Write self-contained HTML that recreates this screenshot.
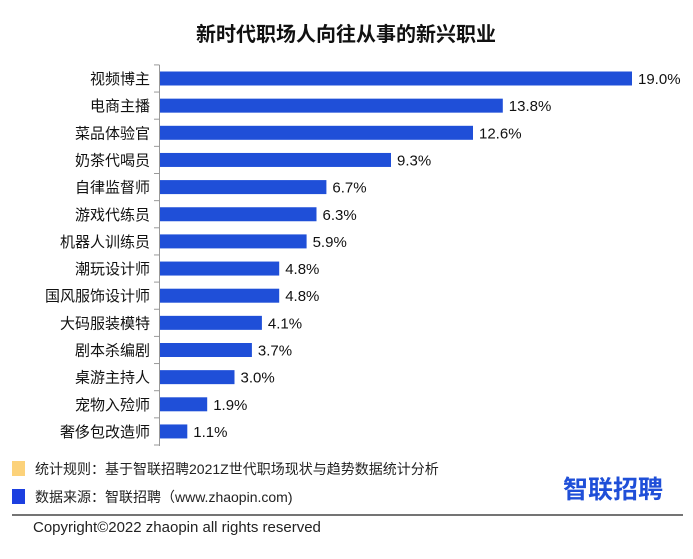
<!DOCTYPE html><html><head><meta charset="utf-8"><style>
body{margin:0;background:#fff;width:693px;height:554px;overflow:hidden}
text{font-family:"Liberation Sans","Noto Sans CJK SC",sans-serif}
</style></head><body>
<svg width="693" height="554" xmlns="http://www.w3.org/2000/svg">
<text x="346" y="41" text-anchor="middle" font-size="20" font-weight="bold" fill="#111">新时代职场人向往从事的新兴职业</text>
<line x1="159.5" y1="65" x2="159.5" y2="446" stroke="#999"/>
<g stroke="#999">
<line x1="154" y1="64.9" x2="159.5" y2="64.9"/><line x1="154" y1="92.05" x2="159.5" y2="92.05"/><line x1="154" y1="119.2" x2="159.5" y2="119.2"/><line x1="154" y1="146.35" x2="159.5" y2="146.35"/><line x1="154" y1="173.5" x2="159.5" y2="173.5"/><line x1="154" y1="200.65" x2="159.5" y2="200.65"/><line x1="154" y1="227.8" x2="159.5" y2="227.8"/><line x1="154" y1="254.95" x2="159.5" y2="254.95"/><line x1="154" y1="282.1" x2="159.5" y2="282.1"/><line x1="154" y1="309.25" x2="159.5" y2="309.25"/><line x1="154" y1="336.4" x2="159.5" y2="336.4"/><line x1="154" y1="363.55" x2="159.5" y2="363.55"/><line x1="154" y1="390.7" x2="159.5" y2="390.7"/><line x1="154" y1="417.85" x2="159.5" y2="417.85"/><line x1="154" y1="445" x2="159.5" y2="445"/>
</g>
<g fill="#1f4fd8">
<rect x="160" y="71.5" width="472" height="14"/>
<rect x="160" y="98.65" width="342.8" height="14"/>
<rect x="160" y="125.8" width="313" height="14"/>
<rect x="160" y="152.95" width="231" height="14"/>
<rect x="160" y="180.1" width="166.4" height="14"/>
<rect x="160" y="207.25" width="156.5" height="14"/>
<rect x="160" y="234.4" width="146.6" height="14"/>
<rect x="160" y="261.55" width="119.2" height="14"/>
<rect x="160" y="288.7" width="119.2" height="14"/>
<rect x="160" y="315.85" width="101.9" height="14"/>
<rect x="160" y="343" width="91.9" height="14"/>
<rect x="160" y="370.15" width="74.5" height="14"/>
<rect x="160" y="397.3" width="47.2" height="14"/>
<rect x="160" y="424.45" width="27.3" height="14"/>
</g>
<g font-size="15" fill="#111" text-anchor="end">
<text x="150" y="84">视频博主</text>
<text x="150" y="111.15">电商主播</text>
<text x="150" y="138.3">菜品体验官</text>
<text x="150" y="165.45">奶茶代喝员</text>
<text x="150" y="192.6">自律监督师</text>
<text x="150" y="219.75">游戏代练员</text>
<text x="150" y="246.9">机器人训练员</text>
<text x="150" y="274.05">潮玩设计师</text>
<text x="150" y="301.2">国风服饰设计师</text>
<text x="150" y="328.35">大码服装模特</text>
<text x="150" y="355.5">剧本杀编剧</text>
<text x="150" y="382.65">桌游主持人</text>
<text x="150" y="409.8">宠物入殓师</text>
<text x="150" y="436.95">奢侈包改造师</text>
</g>
<g font-size="15" fill="#111">
<text x="638" y="84">19.0%</text>
<text x="508.8" y="111.15">13.8%</text>
<text x="479" y="138.3">12.6%</text>
<text x="397" y="165.45">9.3%</text>
<text x="332.4" y="192.6">6.7%</text>
<text x="322.5" y="219.75">6.3%</text>
<text x="312.6" y="246.9">5.9%</text>
<text x="285.2" y="274.05">4.8%</text>
<text x="285.2" y="301.2">4.8%</text>
<text x="267.9" y="328.35">4.1%</text>
<text x="257.9" y="355.5">3.7%</text>
<text x="240.5" y="382.65">3.0%</text>
<text x="213.2" y="409.8">1.9%</text>
<text x="193.3" y="436.95">1.1%</text>
</g>
<rect x="12" y="461" width="13" height="15" fill="#fcd27a"/>
<text x="35" y="474" font-size="14" fill="#222">统计规则：基于智联招聘2021Z世代职场现状与趋势数据统计分析</text>
<rect x="12" y="489" width="13" height="15" fill="#1c3fe0"/>
<text x="35" y="502" font-size="14" fill="#222">数据来源：智联招聘（www.zhaopin.com)</text>
<text x="563" y="498" font-size="25" font-weight="bold" fill="#1f4fd8">智联招聘</text>
<line x1="12" y1="515" x2="683" y2="515" stroke="#222" stroke-width="1.2"/>
<text x="33" y="532" font-size="15" fill="#222">Copyright©2022 zhaopin all rights reserved</text>
</svg>
</body></html>
